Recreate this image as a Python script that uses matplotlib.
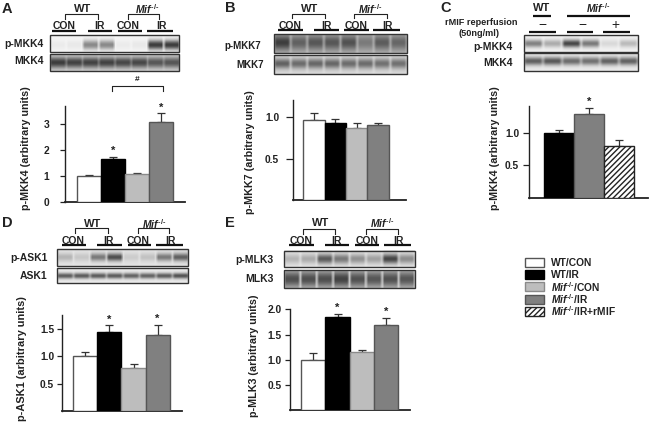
"""Five-panel western blot / densitometry figure (matplotlib / Agg)."""
import numpy as np
import matplotlib
matplotlib.use("Agg")
import matplotlib.pyplot as plt
from matplotlib.patches import Rectangle

plt.rcParams.update({
    "font.family": ["Liberation Sans", "DejaVu Sans"], "font.weight": "bold",
    "font.size": 7.2, "text.color": "#222222", "axes.edgecolor": "#222222",
    "xtick.color": "#222222", "ytick.color": "#222222",
    "mathtext.fontset": "custom", "mathtext.rm": "Liberation Sans:bold",
    "mathtext.it": "Liberation Sans:italic:bold",
    "mathtext.bf": "Liberation Sans:bold", "hatch.linewidth": 1.0,
})

W, H = 653, 423
MIF = r"$\mathit{Mif}^{\text{-/-}}$"

# bar values, upper error limits, starred bars
A_VALUES = [1.00, 1.67, 1.09, 3.08]
A_ERR_TOP = [1.05, 1.74, 1.12, 3.42]
A_STARS = [1, 3]
A_TICKS = [0, 1, 2, 3]
A_TICKLABELS = ["0", "1", "2", "3"]

B_VALUES = [0.96, 0.93, 0.86, 0.90]
B_ERR_TOP = [1.05, 0.97, 0.92, 0.93]
B_STARS = []
B_TICKS = [0.5, 1.0]
B_TICKLABELS = ["0.5", "1.0"]

C_VALUES = [0.99, 1.29, 0.80]
C_ERR_TOP = [1.04, 1.38, 0.88]
C_STARS = [1]
C_TICKS = [0.5, 1.0]
C_TICKLABELS = ["0.5", "1.0"]

D_VALUES = [1.00, 1.44, 0.79, 1.39]
D_ERR_TOP = [1.08, 1.56, 0.86, 1.57]
D_STARS = [1, 3]
D_TICKS = [0.5, 1.0, 1.5]
D_TICKLABELS = ["0.5", "1.0", "1.5"]

E_VALUES = [1.00, 1.85, 1.15, 1.68]
E_ERR_TOP = [1.13, 1.91, 1.20, 1.83]
E_STARS = [1, 3]
E_TICKS = [0.5, 1.0, 1.5, 2.0]
E_TICKLABELS = ["0.5", "1.0", "1.5", "2.0"]

# band darkness per lane, read by eye
A_PHOSPHO = [0.04, 0.05, 0.42, 0.42, 0.04, 0.05, 0.72, 0.72]
A_TOTAL = [0.62, 0.60, 0.60, 0.60, 0.58, 0.58, 0.52, 0.52]
B_PHOSPHO = [0.42, 0.28, 0.32, 0.32, 0.34, 0.18, 0.30, 0.26]
B_TOTAL = [0.42, 0.38, 0.40, 0.40, 0.38, 0.38, 0.36, 0.36]
C_PHOSPHO = [0.45, 0.28, 0.68, 0.48, 0.10, 0.22]
C_TOTAL = [0.55, 0.58, 0.50, 0.48, 0.54, 0.54]
D_PHOSPHO = [0.15, 0.08, 0.38, 0.55, 0.06, 0.10, 0.38, 0.48]
D_TOTAL = [0.58, 0.58, 0.58, 0.58, 0.55, 0.55, 0.58, 0.62]
E_PHOSPHO = [0.16, 0.20, 0.52, 0.40, 0.30, 0.24, 0.60, 0.32]
E_TOTAL = [0.45, 0.45, 0.45, 0.50, 0.44, 0.42, 0.44, 0.42]

LEGEND_LABELS = ["WT/CON", "WT/IR", MIF + "/CON", MIF + "/IR", MIF + "/IR+rMIF"]

WHITE = dict(fc="white", ec="#555555")
BLACK = dict(fc="black", ec="black")
LIGHT = dict(fc="#bdbdbd", ec="#8a8a8a")
DARK = dict(fc="#808080", ec="#555555")
HATCH = dict(fc="white", ec="#222222", hatch="//////")
STYLE_4 = [WHITE, BLACK, LIGHT, DARK]
STYLE_3 = [BLACK, DARK, HATCH]


def _px_axes(fig, x0, x1, y_top, y_bot):
    return fig.add_axes([x0 / W, 1 - y_bot / H, (x1 - x0) / W, (y_bot - y_top) / H],
                        facecolor="none")


def _bars(fig, box, xlim, ymax, values, err_top, stars, styles, ticks, ticklabels,
          tick_px=(5, 3)):
    ax = _px_axes(fig, *box)
    xs = np.arange(len(values))
    for x, v, e, st in zip(xs, values, err_top, styles):
        ax.bar(x, v, width=1.0, lw=1.0, zorder=3, **st)
        ax.errorbar(x, v, yerr=[[0], [e - v]], color="#333333", lw=0.9,
                    capsize=3, capthick=0.9, zorder=2)
    for i in stars:
        ax.annotate("*", (xs[i], err_top[i]), xytext=(0, 0.5),
                    textcoords="offset points", ha="center", va="bottom",
                    fontsize=8)
    ax.set_xlim(*xlim)
    ax.set_ylim(0, ymax)
    ax.set_xticks([])
    ax.set_yticks(ticks, ticklabels, fontsize=7.4)
    ax.tick_params(axis="y", length=tick_px[0] * 0.72, width=0.9, pad=tick_px[1] * 0.72)
    ax.spines[["top", "right"]].set_visible(False)
    ax.spines["left"].set_linewidth(1.0)
    ax.spines["bottom"].set_linewidth(1.3)
    return ax


def _blot(bg, x0, x1, y0, y1, bands, base=0.06, sigma=0.16, center=0.5, smear=0.0,
          floor=0.3):
    """Draw one blot strip into the pixel overlay; bands = darkness per lane."""
    nx, ny = int(round(x1 - x0)), int(round(y1 - y0))
    xx = (np.arange(nx) + 0.5) / nx * len(bands)
    yy = (np.arange(ny) + 0.5) / ny
    lane = np.clip(xx.astype(int), 0, len(bands) - 1)
    dist = xx - lane - 0.5
    window = floor + (1 - floor) * np.clip((0.5 - np.abs(dist)) / 0.14, 0, 1)
    prof = np.exp(-0.5 * ((yy - center) / sigma) ** 2)
    dark = base + smear * np.outer(prof ** 0.3, window)
    dark = dark + np.outer(prof, np.asarray(bands)[lane] * window)
    bg.imshow(1 - np.clip(dark, 0, 1), cmap="gray", vmin=0, vmax=1,
              extent=(x0, x1, y1, y0), aspect="auto", interpolation="bicubic",
              zorder=1)
    bg.add_patch(Rectangle((x0, y0), x1 - x0, y1 - y0, fc="none", ec="#333333",
                           lw=1.0, zorder=2))


def _hline(bg, x0, x1, y, lw=1.6):
    bg.plot([x0, x1], [y, y], color="#111111", lw=lw, solid_capstyle="butt")


def _bracket(bg, x0, x1, y0, y1):
    bg.plot([x0, x0, x1, x1], [y1, y0, y0, y1], color="#222222", lw=0.8)


def _label(bg, x, y, s, ha="center", **kw):
    bg.text(x, y, s, ha=ha, va="center", **kw)


def _header(bg, wt, mif, groups):
    """wt / mif = (text x, text y, bracket x0, x1, y0, y1); groups = (text, x, y, x0, x1, yline)."""
    for (tx, ty, x0, x1, y0, y1), s, fs in ((wt, "WT", 8), (mif, MIF, 7.5)):
        _label(bg, tx, ty, s, fontsize=fs)
        _bracket(bg, x0, x1, y0, y1)
    for s, tx, ty, x0, x1, yl in groups:
        _label(bg, tx, ty, s, fontsize=7.5)
        _hline(bg, x0, x1, yl)


fig = plt.figure(figsize=(W / 100, H / 100), dpi=100)
bg = fig.add_axes([0, 0, 1, 1])
bg.set_xlim(0, W)
bg.set_ylim(H, 0)
bg.axis("off")

# --------------------------------------------------------------------------- #
# panel A
_label(bg, 7, 9, "A", fontsize=10.5)
_header(bg, (83, 9, 65, 98.3, 14.3, 19), (147, 9, 128, 159, 14.3, 19),
        [("CON", 64, 26, 52, 76, 30.7), ("IR", 99, 26, 88, 112, 30.7),
         ("CON", 128, 26, 118, 142, 30.7), ("IR", 161, 26, 147, 173, 30.7)])
_blot(bg, 49.5, 179, 35.5, 52.5, A_PHOSPHO, base=0.04, sigma=0.2, center=0.58)
_blot(bg, 49.5, 179, 54.5, 71.5, A_TOTAL, base=0.14, sigma=0.24, floor=0.7)
_label(bg, 44, 44, "p-MKK4", ha="right", fontsize=7.5)
_label(bg, 44, 61, "MKK4", ha="right", fontsize=7.5)
_bracket(bg, 111.7, 163, 85.7, 91)
_label(bg, 137, 79.5, "#", fontsize=6)
_label(bg, 26, 148, "p-MKK4 (arbitrary units)", rotation=90, fontsize=7.75)
_bars(fig, (65, 185, 106, 202.3), (-1, 4), 3.7, A_VALUES, A_ERR_TOP, A_STARS,
      STYLE_4, A_TICKS, A_TICKLABELS, tick_px=(5.5, 10))

# panel B
_label(bg, 230, 8, "B", fontsize=10.5)
_header(bg, (310, 9, 291.7, 325, 13.7, 18.3), (370, 9, 354, 387, 13.7, 18.3),
        [("CON", 290, 25.7, 278, 303, 30.3), ("IR", 326, 25.7, 314, 339, 30.3),
         ("CON", 355.7, 25.7, 344, 369, 30.3), ("IR", 387.7, 25.7, 373, 400, 30.3)])
_blot(bg, 274, 406.7, 33.7, 52.7, B_PHOSPHO, base=0.22, sigma=0.28, center=0.45, smear=0.12)
_blot(bg, 274, 406.7, 55.3, 74, B_TOTAL, base=0.12, sigma=0.18, center=0.45, smear=0.08)
_label(bg, 261, 45.7, "p-MKK7", ha="right", fontsize=7)
_label(bg, 264, 64.7, "MKK7", ha="right", fontsize=7)
_label(bg, 250, 152, "p-MKK7 (arbitrary units)", rotation=90, fontsize=7.75)
_bars(fig, (292.7, 405.7, 100, 200.3), (-1, 4.3), 1.2, B_VALUES, B_ERR_TOP,
      B_STARS, STYLE_4, B_TICKS, B_TICKLABELS, tick_px=(7.5, 6))

# panel C
_label(bg, 446, 8, "C", fontsize=10.5)
_label(bg, 541.7, 8, "WT", fontsize=8)
_hline(bg, 533, 551, 15.7)
_label(bg, 598, 8, MIF, fontsize=7.5)
_hline(bg, 566.7, 630, 15.7)
_label(bg, 481, 22.7, "rMIF reperfusion", fontsize=6.6)
_label(bg, 479, 33, "(50ng/ml)", fontsize=6.6)
_label(bg, 542.7, 25.2, "\u2212", fontsize=10, fontweight="normal")
_label(bg, 582.7, 25.2, "\u2212", fontsize=10, fontweight="normal")
_label(bg, 615.7, 25.2, "+", fontsize=10, fontweight="normal")
_hline(bg, 529, 556, 31.7)
_hline(bg, 566.7, 593, 31.7)
_hline(bg, 603, 630, 31.7)
_blot(bg, 524, 637.7, 35.3, 52.3, C_PHOSPHO, base=0.05, sigma=0.16, center=0.5)
_blot(bg, 524, 637.7, 53.3, 71.3, C_TOTAL, base=0.08, sigma=0.16, center=0.45, floor=0.5)
_label(bg, 513, 47, "p-MKK4", ha="right", fontsize=7.5)
_label(bg, 513, 62.7, "MKK4", ha="right", fontsize=7.5)
_label(bg, 495, 148, "p-MKK4 (arbitrary units)", rotation=90, fontsize=7.75)
_bars(fig, (529, 648, 106, 197.7), (-1, 2.98), 1.41, C_VALUES, C_ERR_TOP,
      C_STARS, STYLE_3, C_TICKS, C_TICKLABELS, tick_px=(6, 4))

# panel D
_label(bg, 7, 222.7, "D", fontsize=10.5)
_header(bg, (92.7, 224, 75, 108, 228.3, 233.3), (154, 224, 137.7, 169, 228.3, 233.3),
        [("CON", 73.3, 240.7, 61.7, 85.7, 245.3), ("IR", 108, 240.7, 96.7, 121.7, 245.3),
         ("CON", 137.7, 240.7, 127.7, 150.7, 245.3), ("IR", 170, 240.7, 156, 183, 245.3)])
_blot(bg, 56.7, 188.3, 249.3, 266, D_PHOSPHO, base=0.1, sigma=0.16, center=0.48, smear=0.04)
_blot(bg, 56.7, 188.3, 268.3, 282.7, D_TOTAL, base=0.08, sigma=0.13, center=0.52, floor=0.5)
_label(bg, 47.7, 258.3, "p-ASK1", ha="right", fontsize=7.5)
_label(bg, 47.7, 276, "ASK1", ha="right", fontsize=7.5)
_label(bg, 22, 358.5, "p-ASK1 (arbitrary units)", rotation=90, fontsize=7.9)
_bars(fig, (61.7, 181.7, 315.3, 411), (-0.98, 4), 1.74, D_VALUES, D_ERR_TOP,
      D_STARS, STYLE_4, D_TICKS, D_TICKLABELS, tick_px=(5, 2.5))

# panel E
_label(bg, 230, 222.7, "E", fontsize=10.5)
_header(bg, (320.7, 223.3, 302.7, 335, 228.7, 234), (381.7, 223.3, 365.7, 397.7, 228.7, 234),
        [("CON", 301, 240.7, 289, 314.3, 245.3), ("IR", 336.7, 240.7, 325, 349, 245.3),
         ("CON", 366.7, 240.7, 355, 379.3, 245.3), ("IR", 398.3, 240.7, 384.3, 411, 245.3)])
_blot(bg, 284.3, 415, 250.7, 267.3, E_PHOSPHO, base=0.08, sigma=0.2, center=0.52, smear=0.05)
_blot(bg, 284.3, 415, 270, 287.7, E_TOTAL, base=0.14, sigma=0.32, center=0.5, smear=0.1, floor=0.2)
_label(bg, 273.3, 260, "p-MLK3", ha="right", fontsize=7.5)
_label(bg, 273.3, 279, "MLK3", ha="right", fontsize=7.5)
_label(bg, 254, 356, "p-MLK3 (arbitrary units)", rotation=90, fontsize=7.75)
_bars(fig, (289.7, 410, 309.3, 410.3), (-0.98, 4), 2.0, E_VALUES, E_ERR_TOP,
      E_STARS, STYLE_4, E_TICKS, E_TICKLABELS, tick_px=(4.7, 3))

# --------------------------------------------------------------------------- #
# key, drawn row by row so the superscript rows do not change the spacing
for i, (s, st) in enumerate(zip(LEGEND_LABELS, STYLE_4 + [HATCH])):
    y = 262.7 + i * 12.15
    bg.add_patch(Rectangle((524.7, y - 4.5), 19.3, 9, lw=1.0, **st))
    _label(bg, 551, y, s, ha="left", fontsize=7.4)

fig.savefig("out.png", dpi=100)
plt.close(fig)
